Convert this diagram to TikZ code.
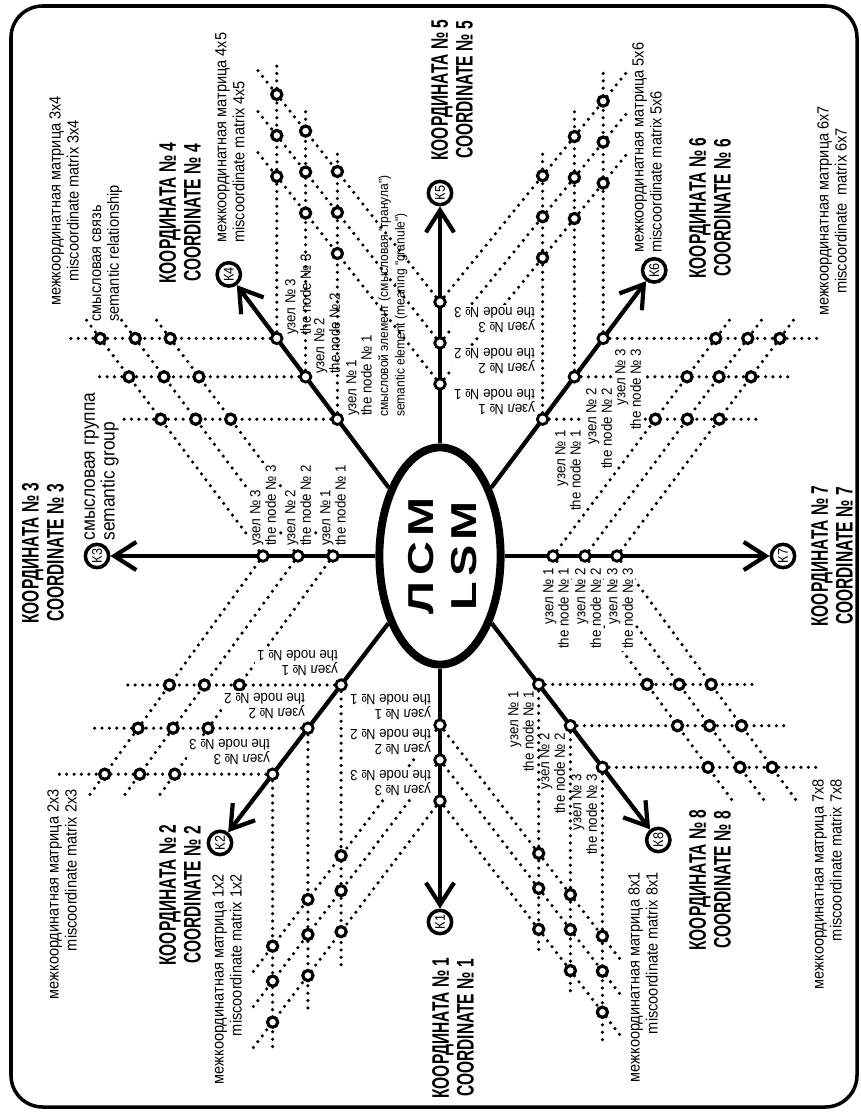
\documentclass[tikz,border=0pt]{standalone}
\usepackage{fontspec}
\setmainfont{Liberation Sans}
\newfontfamily\condfont[FakeStretch=0.65]{Liberation Sans}
\newfontfamily\lblfont[FakeStretch=0.9]{Liberation Sans}
\newfontfamily\lsmfont[FakeStretch=1.3]{Liberation Sans}
\usetikzlibrary{arrows.meta,shapes.geometric,calc}
\pgfdeclarelayer{bg}
\pgfsetlayers{bg,main}
\newcommand\mxlines[3]{\foreach \i in {a,b,c}{\draw[dotl] (n#2\i) -- (#1r\i); \draw[dotl] (n#3\i) -- (#1d\i);}}
\newcommand\mxnodesH[3]{\foreach \i in {a,b,c}{\foreach \j in {a,b,c}{%
  \path let \p1=(p#2\i), \p2=(p#3\j), \p3=(#1d\j), \n1={\x2+(\x3-\x2)*((\y1-\y2)/(\y3-\y2))} in node[mnode] (#1\i\j) at (\n1,\y1) {};}}}
\newcommand\mxnodesV[3]{\foreach \i in {a,b,c}{\foreach \j in {a,b,c}{%
  \path let \p1=(p#2\i), \p2=(p#3\j), \p3=(#1d\j), \n1={\y2+(\y3-\y2)*((\x1-\x2)/(\x3-\x2))} in node[mnode] (#1\i\j) at (\x1,\n1) {};}}}
\newcommand\uz[1]{узел № #1\\the node № #1}
\newcommand\mxt[1]{межкоординатная матрица #1\\miscoordinate matrix #1}
\begin{document}
\begin{tikzpicture}[x=0.02cm,y=-0.02cm,
 ray/.style={line width=2.4pt,-{Straight Barb[length=12.5pt,width=16pt]}},
 rnode/.style={circle,draw,fill=white,line width=1.6pt,minimum size=6pt,inner sep=0pt},
 mnode/.style={circle,draw,fill=white,line width=1.8pt,minimum size=5.8pt,inner sep=0pt},
 dotl/.style={line width=2pt,line cap=round,dash pattern=on 0pt off 4.2pt},
 kcirc/.style={circle,draw,fill=white,line width=2pt,minimum size=13.3pt,inner sep=0pt,rotate=90,font=\lblfont\fontsize{8}{8}\selectfont},
 bigl/.style={rotate=90,align=center,inner sep=0pt,font=\condfont\bfseries\fontsize{13.6}{14.2}\selectfont},
 matl/.style={rotate=90,inner sep=0pt,font=\lblfont\fontsize{9.2}{10.2}\selectfont},
 nlab/.style={inner sep=1pt,font=\lblfont\fontsize{8.4}{8.8}\selectfont},
 nlv/.style={nlab,rotate=90},
 nlu/.style={nlab,rotate=180,align=left,fill=white},
 frame/.style={line width=2pt,rounded corners=18pt}]
\useasboundingbox (0,0) rectangle (860,1112);
\begin{pgfonlayer}{bg}
\fill[white] (0,0) rectangle (860,1112);
\end{pgfonlayer}
\draw[frame] (11,6) rectangle (857,1107);

% ray node positions
\coordinate (p1a) at (440,725); \coordinate (p1b) at (440,760); \coordinate (p1c) at (440,801);
\coordinate (p2a) at (341.1,685); \coordinate (p2b) at (307.9,728.2); \coordinate (p2c) at (272.6,774.2);
\coordinate (p3a) at (333,556); \coordinate (p3b) at (298,556); \coordinate (p3c) at (263,556);
\coordinate (p4a) at (337.4,419.2); \coordinate (p4b) at (305.6,376.8); \coordinate (p4c) at (276.8,338.4);
\coordinate (p5a) at (440,384); \coordinate (p5b) at (440,343); \coordinate (p5c) at (440,302);
\coordinate (p6a) at (542.6,419.2); \coordinate (p6b) at (574.4,376.8); \coordinate (p6c) at (603.2,338.4);
\coordinate (p7a) at (553,556); \coordinate (p7b) at (585,556); \coordinate (p7c) at (617,556);
\coordinate (p8a) at (538.7,684.4); \coordinate (p8b) at (570.4,725.7); \coordinate (p8c) at (602.4,767.3);

% matrix line ends
\coordinate (M34ra) at (123,419.2); \coordinate (M34rb) at (97,376.8); \coordinate (M34rc) at (65,338.4);
\coordinate (M34da) at (155,318); \coordinate (M34db) at (120,318); \coordinate (M34dc) at (85,318);
\coordinate (M45ra) at (337.4,150); \coordinate (M45rb) at (305.6,108); \coordinate (M45rc) at (276.8,65);
\coordinate (M45da) at (256,150); \coordinate (M45db) at (256,109); \coordinate (M45dc) at (256,68);
\coordinate (M56ra) at (542.6,150); \coordinate (M56rb) at (574.4,110); \coordinate (M56rc) at (603.2,70);
\coordinate (M56da) at (626,155); \coordinate (M56db) at (626,114); \coordinate (M56dc) at (626,73);
\coordinate (M67ra) at (757,419.2); \coordinate (M67rb) at (792,376.8); \coordinate (M67rc) at (818,338.4);
\coordinate (M67da) at (731,318); \coordinate (M67db) at (763,318); \coordinate (M67dc) at (795,318);
\coordinate (M78ra) at (753,684.4); \coordinate (M78rb) at (785,725.7); \coordinate (M78rc) at (817,767.3);
\coordinate (M78da) at (732,800); \coordinate (M78db) at (764,800); \coordinate (M78dc) at (796,800);
\coordinate (M81ra) at (538.7,955); \coordinate (M81rb) at (570.4,997); \coordinate (M81rc) at (602.4,1040);
\coordinate (M81da) at (623,963); \coordinate (M81db) at (623,998); \coordinate (M81dc) at (623,1039);
\coordinate (M12ra) at (341.1,967); \coordinate (M12rb) at (307.9,1010); \coordinate (M12rc) at (272.6,1052);
\coordinate (M12da) at (250,976); \coordinate (M12db) at (250,1011); \coordinate (M12dc) at (250,1052);
\coordinate (M23ra) at (125,685); \coordinate (M23rb) at (93,728.2); \coordinate (M23rc) at (58,774.2);
\coordinate (M23da) at (156,800); \coordinate (M23db) at (121,800); \coordinate (M23dc) at (86,800);

% centre
\node[ellipse,draw,line width=4.5pt,minimum width=69pt,minimum height=123.6pt,inner sep=0pt] (lsm) at (440,556) {};
\node[rotate=90,align=center,inner sep=0pt,font=\lsmfont\bfseries\fontsize{20.5}{24.4}\selectfont] (lsmt) at (443,556) {Л\kern3.5pt С\kern3.5pt М\\L\kern3pt S\kern3pt M};

% coordinate circles
\node[kcirc] (k1) at (440,922) {К1};
\node[kcirc] (k2) at (220,842.9) {К2};
\node[kcirc] (k3) at (97,556) {К3};
\node[kcirc] (k4) at (228.8,274.4) {К4};
\node[kcirc] (k5) at (440,193) {К5};
\node[kcirc] (k6) at (654.2,270.4) {К6};
\node[kcirc] (k7) at (783,556) {К7};
\node[kcirc] (k8) at (658.3,840) {К8};

% ray nodes
\foreach \q in {1a,1b,1c,2a,2b,2c,3a,3b,3c,4a,4b,4c,5a,5b,5c,6a,6b,6c,7a,7b,7c,8a,8b,8c}
  \node[rnode] (n\q) at (p\q) {};

% matrix nodes
\mxnodesH{M34}{4}{3}
\mxnodesV{M45}{4}{5}
\mxnodesV{M56}{6}{5}
\mxnodesH{M67}{6}{7}
\mxnodesH{M78}{8}{7}
\mxnodesV{M81}{8}{1}
\mxnodesV{M12}{2}{1}
\mxnodesH{M23}{2}{3}

% lines
\begin{pgfonlayer}{bg}
\mxlines{M34}{4}{3}
\mxlines{M45}{4}{5}
\mxlines{M56}{6}{5}
\mxlines{M67}{6}{7}
\mxlines{M78}{8}{7}
\mxlines{M81}{8}{1}
\mxlines{M12}{2}{1}
\mxlines{M23}{2}{3}
\foreach \k in {1,...,8} \draw[ray] (lsm) -- (k\k);
\end{pgfonlayer}

% coordinate titles
\node[bigl] (t1) at (453,1028) {КООРДИНАТА № 1\\COORDINATE № 1};
\node[bigl] (t2) at (180,895) {КООРДИНАТА № 2\\COORDINATE № 2};
\node[bigl] (t3) at (43,553) {КООРДИНАТА № 3\\COORDINATE № 3};
\node[bigl] (t4) at (180,213) {КООРДИНАТА № 4\\COORDINATE № 4};
\node[bigl] (t5) at (452,90) {КООРДИНАТА № 5\\COORDINATE № 5};
\node[bigl] (t6) at (710,208) {КООРДИНАТА № 6\\COORDINATE № 6};
\node[bigl] (t7) at (832,556) {КООРДИНАТА № 7\\COORDINATE № 7};
\node[bigl] (t8) at (710,880) {КООРДИНАТА № 8\\COORDINATE № 8};

% matrix titles
\node[matl,align=center] (x34) at (64,201) {\mxt{3x4}};
\node[matl,align=left,anchor=north west] (x45) at (215,243) {\mxt{4x5}};
\node[matl,align=left,anchor=north west] (x56) at (632,253) {\mxt{5x6}};
\node[matl,align=center] (x67) at (832,211) {межкоординатная матрица 6x7\\miscoordinate\ \ matrix 6x7};
\node[matl,align=right,anchor=north east] (x78) at (812,779) {\mxt{7x8}};
\node[matl,align=right,anchor=north east] (x81) at (628,872) {\mxt{8x1}};
\node[matl,align=right,anchor=north east] (x12) at (212,874) {\mxt{1x2}};
\node[matl,align=right,anchor=north east] (x23) at (47,789) {\mxt{2x3}};

% other notes
\node[matl,align=left,anchor=north west] (sv) at (92,322) {смысловая связь\\semantic relationship};
\node[matl,align=left,anchor=north west,font=\lblfont\fontsize{11}{9.6}\selectfont] (sg) at (84,541) {смысловая группа\\semantic group};
\node[nlv,align=left,anchor=north west,font=\lblfont\fontsize{7.6}{9.4}\selectfont] (se) at (376,419) {смысловой элемент (смысловая "гранула")\\semantic element (meaning "granule")};

% node labels
\node[nlv,fill=white,align=left,anchor=north west] (l3a) at (318,548) {\uz{1}};
\node[nlv,fill=white,align=left,anchor=north west] (l3b) at (283,548) {\uz{2}};
\node[nlv,fill=white,align=left,anchor=north west] (l3c) at (248,548) {\uz{3}};
\node[nlv,fill=white,align=right,anchor=north east] (l7a) at (541,566) {\uz{1}};
\node[nlv,fill=white,align=right,anchor=north east] (l7b) at (573,566) {\uz{2}};
\node[nlv,fill=white,align=right,anchor=north east] (l7c) at (605,566) {\uz{3}};
\node[nlv,align=left,anchor=north west] (l4a) at (344,418) {\uz{1}};
\node[nlv,align=left,anchor=north west] (l4b) at (312,376) {\uz{2}};
\node[nlv,align=left,anchor=north west] (l4c) at (283,337) {\uz{3}};
\node[nlv,fill=white,align=right,anchor=north east] (l6a) at (553,428) {\uz{1}};
\node[nlv,fill=white,align=right,anchor=north east] (l6b) at (584,386) {\uz{2}};
\node[nlv,fill=white,align=right,anchor=north east] (l6c) at (613,347) {\uz{3}};
\node[nlv,align=right,anchor=north east] (l8a) at (506,689) {\uz{1}};
\node[nlv,align=right,anchor=north east] (l8b) at (537,731) {\uz{2}};
\node[nlv,align=right,anchor=north east] (l8c) at (569,772) {\uz{3}};
\node[nlu,anchor=north west] (l1a) at (433,722) {\uz{1}};
\node[nlu,anchor=north west] (l1b) at (433,757) {\uz{2}};
\node[nlu,anchor=north west] (l1c) at (433,798) {\uz{3}};
\node[nlu,anchor=north west] (l2a) at (340,678) {\uz{1}};
\node[nlu,anchor=north west] (l2b) at (307,721) {\uz{2}};
\node[nlu,anchor=north west] (l2c) at (272,767) {\uz{3}};
\node[nlu,anchor=south east] (l5a) at (452,387) {\uz{1}};
\node[nlu,anchor=south east] (l5b) at (452,346) {\uz{2}};
\node[nlu,anchor=south east] (l5c) at (452,305) {\uz{3}};
\end{tikzpicture}
\end{document}
